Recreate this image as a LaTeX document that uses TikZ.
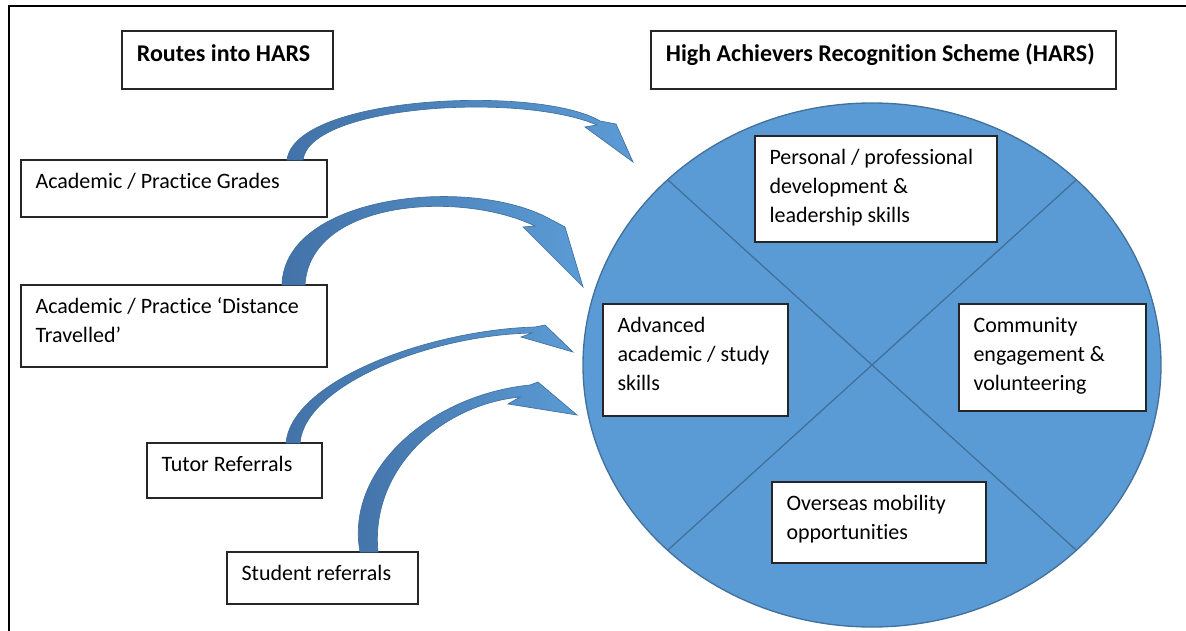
\documentclass[tikz,border=0pt]{standalone}
\usepackage{fontspec}
\setmainfont{Carlito}[RawFeature=-liga]
\usetikzlibrary{calc}

\definecolor{harsblue}{RGB}{91,155,213}
\definecolor{harsedge}{RGB}{65,113,156}
\definecolor{arrowdark}{RGB}{66,114,168}

\tikzset{every picture/.style={line width=0.75pt}}
\tikzset{
  routebox/.style 2 args={draw=black!85, fill=white, line width=0.9pt, rectangle, inner sep=0pt, outer sep=0pt,
    anchor=north west, minimum width=#1*0.75pt, minimum height=#2*0.75pt},
  boxtext/.style={anchor=north west, align=left, inner xsep=10.9pt, inner ysep=5.8pt, outer sep=0pt,
    font=\fontsize{16.5}{21.75}\selectfont},
  titletext/.style={boxtext, inner xsep=11.2pt, inner ysep=6.6pt, font=\fontsize{18}{23.7}\selectfont\bfseries},
  bentarrow/.style={draw=harsedge, line width=0.5pt, left color=arrowdark, right color=harsblue},
}

\begin{document}
\begin{tikzpicture}[x=0.75pt,y=0.75pt,yscale=-1,xscale=1]
\useasboundingbox (0,0) rectangle (1186,631);

%Straight Lines: frame
\draw [line width=1.5pt] (9,631) -- (9,6) -- (1186,6) ;

%Shape: Ellipse
\coordinate (hc) at (872,365);
\draw [draw=harsedge, fill=harsblue, line width=1pt] (hc) ellipse [x radius=216.75pt, y radius=196.5pt] ;
%Straight Lines
\draw [harsedge, line width=1pt] ($(hc)+(135:289 and 262)$) -- ($(hc)+(-45:289 and 262)$) ;
\draw [harsedge, line width=1pt] ($(hc)+(45:289 and 262)$) -- ($(hc)+(-135:289 and 262)$) ;

% Title boxes
\node [routebox={211}{58}] (routes) at (122,31) {};
\node [titletext] (routestxt) at (routes.north west) {\strut Routes into HARS};
\node [routebox={465}{58}] (scheme) at (651,31) {};
\node [titletext] (schemetxt) at (scheme.north west) {\strut High Achievers Recognition Scheme (HARS)};

% Route boxes
\node [routebox={306}{57}] (grades) at (21,160) {};
\node [boxtext] (gradestxt) at (grades.north west) {\strut Academic / Practice Grades};
\node [routebox={306}{82}] (distance) at (21,285) {};
\node [boxtext] (distancetxt) at (distance.north west) {\strut Academic / Practice ‘Distance\\Travelled’};
\node [routebox={175}{55}] (tutor) at (147,443) {};
\node [boxtext] (tutortxt) at (tutor.north west) {\strut Tutor Referrals};
\node [routebox={191}{52}] (student) at (227,552) {};
\node [boxtext] (studenttxt) at (student.north west) {\strut Student referrals};

% Scheme boxes
\node [routebox={242}{106}] (personal) at (755,136) {};
\node [boxtext] (personaltxt) at (personal.north west) {\strut Personal / professional\\development \&\\leadership skills};
\node [routebox={185}{112}] (advanced) at (603,304) {};
\node [boxtext] (advancedtxt) at (advanced.north west) {\strut Advanced\\academic / study\\skills};
\node [routebox={187}{107}] (community) at (959,304) {};
\node [boxtext] (communitytxt) at (community.north west) {\strut Community\\engagement \&\\volunteering};
\node [routebox={214}{81}] (overseas) at (772,482) {};
\node [boxtext] (overseastxt) at (overseas.north west) {\strut Overseas mobility\\opportunities};

% Curved arrows
\coordinate (g1) at ($(grades.north west)+(266,0)$);
\coordinate (g2) at ($(grades.north west)+(282,0)$);
\path [bentarrow] (g1) .. controls (295,95) and (540,85) .. (600,121) -- (616,124) -- (633,162) -- (585,127) -- (597,125) .. controls (520,92) and (310,105) .. (g2) -- cycle ;

\coordinate (d1) at ($(distance.north west)+(261,0)$);
\coordinate (d2) at ($(distance.north west)+(284,0)$);
\path [bentarrow] (d1) .. controls (284,195) and (470,175) .. (550,219) -- (565,227) -- (583,287) -- (523,227) -- (535,226) .. controls (460,190) and (310,200) .. (d2) -- cycle ;

\coordinate (t1) at ($(tutor.north west)+(139,0)$);
\coordinate (t2) at ($(tutor.north west)+(153,0)$);
\path [bentarrow] (t1) .. controls (292,380) and (430,330) .. (535,327) -- (545,325) -- (573,352) -- (521,337) -- (532,333) .. controls (430,335) and (305,385) .. (t2) -- cycle ;

\coordinate (s1) at ($(student.north west)+(133,0)$);
\coordinate (s2) at ($(student.north west)+(151,0)$);
\path [bentarrow] (s1) .. controls (345,470) and (430,395) .. (530,385) -- (538,382) -- (577,415) -- (508,404) -- (520,397) .. controls (440,405) and (370,470) .. (s2) -- cycle ;

\end{tikzpicture}
\end{document}
